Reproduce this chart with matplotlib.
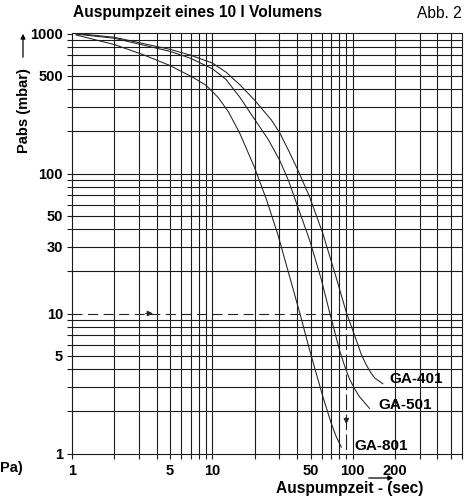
import matplotlib
matplotlib.use('Agg')
import matplotlib.pyplot as plt
import matplotlib.patches as mpatches
from matplotlib.ticker import FixedLocator, FuncFormatter, NullLocator

plt.rcParams['font.family'] = ['Liberation Sans', 'DejaVu Sans']

# ---- data (time in s, pressure in mbar) ----
ga401_t = [1.07, 2, 5, 7, 10, 12.5, 15.7, 20, 26.4, 30.2, 35, 40.6, 49.3, 61.2, 76.3, 89.9,
           106, 115, 124.7, 134, 143, 163.8]
ga401_p = [1000, 940, 770, 700, 615, 530, 430, 334, 240, 195, 145, 106, 68, 37.3, 18.0, 10.2,
           6.45, 5.1, 4.3, 3.8, 3.47, 3.15]

ga501_t = [1.07, 2, 5, 7, 10, 12.5, 15.7, 20.2, 25, 30.2, 35, 40.6, 49.3, 59.7, 68.4, 80.5,
           88, 94.9, 103, 111.8, 131.6]
ga501_p = [990, 925, 745, 665, 560, 470, 350, 240, 175, 124, 88, 57.7, 33.4, 17.5, 10.2, 5.47,
           4.15, 3.4, 2.9, 2.54, 2.1]

ga801_t = [1.07, 2, 3.2, 5, 7.3, 9, 11, 13, 15.7, 20, 24.3, 29.3, 35.4, 41.8, 49.3, 61.3,
           70.3, 76, 82.8]
ga801_p = [976, 834, 707, 590, 485, 427, 349, 276, 193, 110, 65, 36.5, 18.5, 10.2, 5.47, 2.54,
           1.64, 1.33, 1.11]

curve_names = ['GA-401', 'GA-501', 'GA-801']
label_pos_t = [183, 153, 103]
label_pos_p = [3.4, 2.21, 1.13]

ref_pressure = 10
ref_time = 90

x_tick_labels = [1, 5, 10, 50, 100, 200]
y_tick_labels = [1, 5, 10, 30, 50, 100, 500, 1000]
x_grid = [1, 2, 3, 4, 5, 6, 7, 8, 9, 10, 20, 30, 40, 50, 60, 70, 80, 90, 100, 200, 300, 400, 500, 600]
y_grid = [1, 2, 3, 4, 5, 6, 7, 8, 9, 10, 20, 30, 40, 50, 60, 70, 80, 90, 100,
          200, 300, 400, 500, 600, 700, 800, 900, 1000]

W, H = 477, 498
fig = plt.figure(figsize=(W / 100, H / 100), dpi=100)
ax = fig.add_axes([72 / W, 1 - 453.5 / H, 390 / W, 420 / H])
ax.set_xscale('log')
ax.set_yscale('log')
X0, X1, Y0, Y1 = x_grid[0], x_grid[-1], y_grid[0], y_grid[-1]
ax.set_xlim(X0, X1)
ax.set_ylim(Y0, Y1)

gcol = '#1a1a1a'
glw = 0.8
ccol = '#222222'

ax.xaxis.set_major_locator(FixedLocator(x_grid))
ax.yaxis.set_major_locator(FixedLocator(y_grid))
ax.xaxis.set_minor_locator(NullLocator())
ax.yaxis.set_minor_locator(NullLocator())
fmt = lambda labels: FuncFormatter(
    lambda v, p: (('%d' % round(v)) if any(abs(v - l) < 1e-6 for l in labels) else ''))
ax.xaxis.set_major_formatter(fmt(x_tick_labels))
ax.yaxis.set_major_formatter(fmt(y_tick_labels))
ax.tick_params(axis='both', which='major', direction='out', length=3.5, width=glw, color=gcol,
               labelsize=10.5)
ax.tick_params(axis='x', pad=4)
ax.tick_params(axis='y', pad=3)
for lab in ax.get_xticklabels() + ax.get_yticklabels():
    lab.set_fontweight('bold')
for s in ax.spines.values():
    s.set_color(gcol)
    s.set_linewidth(glw)

# grid lines (the reference lines at 10 mbar / 90 s are partly dashed)
for xv in x_grid[1:-1]:
    if xv == ref_time:
        ax.plot([xv, xv], [ref_pressure, Y1], color=gcol, lw=glw, zorder=1)
    else:
        ax.axvline(xv, color=gcol, lw=glw, zorder=1)
for yv in y_grid[1:-1]:
    if yv == ref_pressure:
        ax.plot([ref_time, X1], [yv, yv], color=gcol, lw=glw, zorder=1)
    else:
        ax.axhline(yv, color=gcol, lw=glw, zorder=1)

# curves
for t, p in [(ga401_t, ga401_p), (ga501_t, ga501_p), (ga801_t, ga801_p)]:
    ax.plot(t, p, color=ccol, lw=0.75, solid_joinstyle='round', zorder=3)
for name, t, p in zip(curve_names, label_pos_t, label_pos_p):
    ax.text(t, p, name, ha='left', va='center', fontsize=11, fontweight='bold', zorder=4)

# reference dashed lines with arrows
ax.plot([X0, ref_time], [ref_pressure, ref_pressure], color=ccol, lw=0.8, dashes=(9, 5), zorder=2)
ax.plot([ref_time, ref_time], [ref_pressure, Y0], color=ccol, lw=0.8, dashes=(14, 4), zorder=2)
ax.annotate('', xy=(3.95, ref_pressure), xytext=(3.2, ref_pressure),
            arrowprops=dict(arrowstyle='-|>', color=ccol, lw=0.8, mutation_scale=8))
ax.annotate('', xy=(ref_time, 1.55), xytext=(ref_time, 1.9),
            arrowprops=dict(arrowstyle='-|>', color=ccol, lw=0.8, mutation_scale=8))

# texts
def fx(x):
    return x / W
def fy(y):
    return 1 - y / H

fig.text(fx(73), fy(13), 'Auspumpzeit eines 10 l Volumens', ha='left', va='center',
         fontsize=11.2, fontweight='bold')
fig.text(fx(462), fy(13), 'Abb. 2', ha='right', va='center', fontsize=11.2)
fig.text(fx(24), fy(111), 'Pabs (mbar)', rotation=90, ha='center', va='center',
         fontsize=10.5, fontweight='bold')
fig.text(fx(0), fy(468), 'Pa)', ha='left', va='center', fontsize=10.5, fontweight='bold')
fig.text(fx(350), fy(488), 'Auspumpzeit - (sec)', ha='center', va='center',
         fontsize=11.2, fontweight='bold')
fig.add_artist(mpatches.FancyArrowPatch((fx(23), fy(60)), (fx(23), fy(31)),
               transform=fig.transFigure, arrowstyle='-|>', mutation_scale=7, lw=0.9, color='k'))
fig.add_artist(mpatches.FancyArrowPatch((fx(366), fy(478)), (fx(396), fy(478)),
               transform=fig.transFigure, arrowstyle='-|>', mutation_scale=7, lw=0.9, color='k'))

fig.savefig('out.png', dpi=100)
